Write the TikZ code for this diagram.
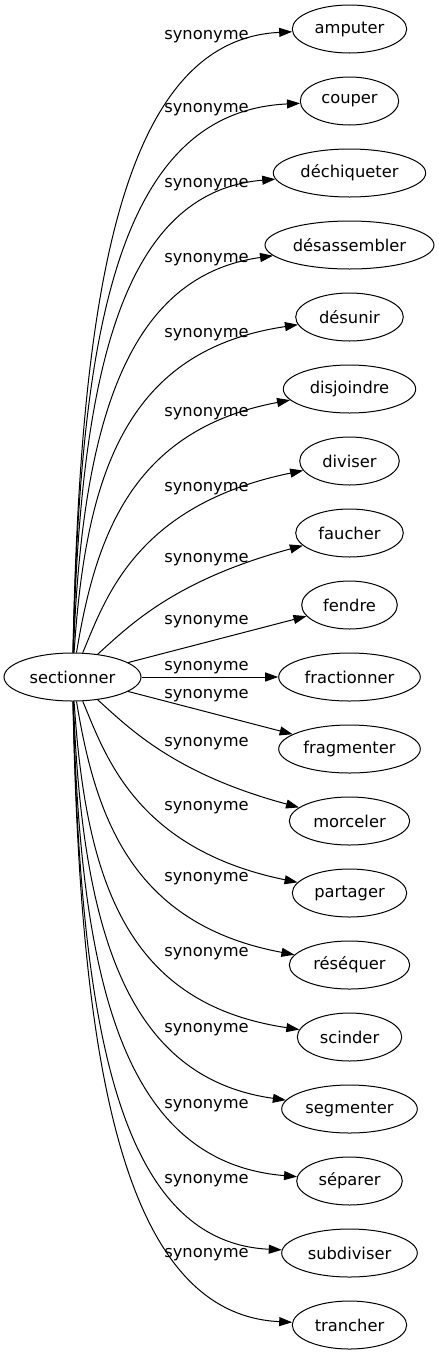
\documentclass[tikz,border=0pt]{standalone}
\usepackage{fontspec}
\setmainfont{DejaVu Sans}
\usetikzlibrary{shapes.geometric,arrows.meta}
\begin{document}
\begin{tikzpicture}[x=1pt,y=-1pt,
  word/.style={draw, ellipse, minimum height=48pt, inner sep=0pt, line width=1pt, font=\fontsize{16.3}{19}\selectfont},
  lbl/.style={font=\fontsize{16.3}{19}\selectfont, inner sep=0pt, anchor=base},
  syn/.style={line width=1pt, -{Triangle[length=13pt,width=9pt]}}]
\useasboundingbox (0,0) rectangle (439,1355);
\node[word, minimum width=137pt] (s) at (72.5,677) {sectionner};
\node[word, minimum width=114.4pt] (amputer) at (349.5,29) {amputer};
\node[word, minimum width=98.4pt] (couper) at (349.5,101) {couper};
\node[word, minimum width=152.4pt] (dechiqueter) at (349.5,173) {déchiqueter};
\node[word, minimum width=169pt] (desassembler) at (349.5,245) {désassembler};
\node[word, minimum width=107.6pt] (desunir) at (349.5,317) {désunir};
\node[word, minimum width=132.4pt] (disjoindre) at (349.5,389) {disjoindre};
\node[word, minimum width=99.6pt] (diviser) at (349.5,461) {diviser};
\node[word, minimum width=107.6pt] (faucher) at (349.5,533) {faucher};
\node[word, minimum width=95.6pt] (fendre) at (349.5,605) {fendre};
\node[word, minimum width=141.6pt] (fractionner) at (349.5,677) {fractionner};
\node[word, minimum width=141.6pt] (fragmenter) at (349.5,749) {fragmenter};
\node[word, minimum width=120.4pt] (morceler) at (349.5,821) {morceler};
\node[word, minimum width=114.4pt] (partager) at (349.5,893) {partager};
\node[word, minimum width=120.4pt] (resequer) at (349.5,965) {réséquer};
\node[word, minimum width=104.4pt] (scinder) at (349.5,1037) {scinder};
\node[word, minimum width=135.6pt] (segmenter) at (349.5,1109) {segmenter};
\node[word, minimum width=105.6pt] (separer) at (349.5,1181) {séparer};
\node[word, minimum width=135.6pt] (subdiviser) at (349.5,1253) {subdiviser};
\node[word, minimum width=114.4pt] (trancher) at (349.5,1325) {trancher};
% labels
\node[lbl] (l1) at (206.5,39.5) {synonyme};
\node[lbl] (l2) at (206.5,112.5) {synonyme};
\node[lbl] (l3) at (206.5,187.5) {synonyme};
\node[lbl] (l4) at (206.5,262.5) {synonyme};
\node[lbl] (l5) at (206.5,337.5) {synonyme};
\node[lbl] (l6) at (206.5,416.5) {synonyme};
\node[lbl] (l7) at (206.5,491.5) {synonyme};
\node[lbl] (l8) at (206.5,562.5) {synonyme};
\node[lbl] (l9) at (206.5,624.5) {synonyme};
\node[lbl] (l10) at (206.5,670.5) {synonyme};
\node[lbl] (l11) at (206.5,698.5) {synonyme};
\node[lbl] (l12) at (206.5,746.5) {synonyme};
\node[lbl] (l13) at (206.5,810.5) {synonyme};
\node[lbl] (l14) at (206.5,881.5) {synonyme};
\node[lbl] (l15) at (206.5,956.5) {synonyme};
\node[lbl] (l16) at (206.5,1032.5) {synonyme};
\node[lbl] (l17) at (206.5,1108.5) {synonyme};
\node[lbl] (l18) at (206.5,1183.5) {synonyme};
\node[lbl] (l19) at (206.5,1257.5) {synonyme};
% edges (upper)
\draw[syn] (s) .. controls (80,297) and (120,40) .. (amputer);
\draw[syn] (s) .. controls (80,338) and (115,112) .. (couper);
\draw[syn] (s) .. controls (80,379) and (120,192) .. (dechiqueter);
\draw[syn] (s) .. controls (82,420) and (128,276) .. (desassembler);
\draw[syn] (s) .. controls (86,470) and (128,350) .. (desunir);
\draw[syn] (s) .. controls (95,540) and (130,430) .. (disjoindre);
\draw[syn] (s) .. controls (105,600) and (135,505) .. (diviser);
\draw[syn] (s) .. controls (130,625) and (175,580) .. (faucher);
\draw[syn] (s) -- (fendre);
\draw[syn] (s) -- (fractionner);
% edges (lower)
\draw[syn] (s) -- (fragmenter);
\draw[syn] (s) .. controls (130,729) and (175,774) .. (morceler);
\draw[syn] (s) .. controls (105,754) and (135,849) .. (partager);
\draw[syn] (s) .. controls (95,814) and (130,924) .. (resequer);
\draw[syn] (s) .. controls (86,884) and (128,1004) .. (scinder);
\draw[syn] (s) .. controls (82,934) and (128,1078) .. (segmenter);
\draw[syn] (s) .. controls (80,975) and (120,1162) .. (separer);
\draw[syn] (s) .. controls (80,1016) and (115,1242) .. (subdiviser);
\draw[syn] (s) .. controls (80,1057) and (120,1314) .. (trancher);
\end{tikzpicture}
\end{document}
